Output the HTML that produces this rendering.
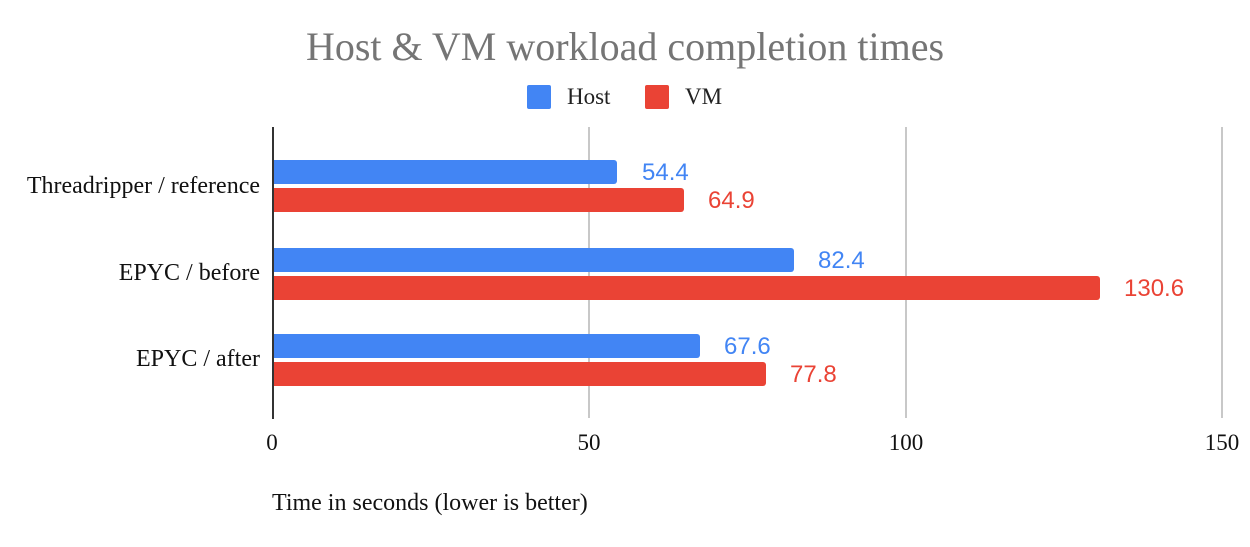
<!DOCTYPE html>
<html><head><style>body{margin:0;background:#fff}</style></head><body>
<svg width="1250" height="542" xmlns="http://www.w3.org/2000/svg">
<rect width="1250" height="542" fill="#fff"/>
<text x="625" y="60" text-anchor="middle" font-family="Liberation Serif, serif" font-size="40" fill="#757575">Host &amp; VM workload completion times</text>
<rect x="527" y="85" width="24" height="24" rx="2" fill="#4285f4"/>
<text x="567" y="104" font-family="Liberation Serif, serif" font-size="23" fill="#222">Host</text>
<rect x="645" y="85" width="24" height="24" rx="2" fill="#ea4335"/>
<text x="685" y="104" font-family="Liberation Serif, serif" font-size="23" fill="#222">VM</text>
<g stroke="#c8c8c8" stroke-width="2">
<line x1="589" y1="127" x2="589" y2="418"/>
<line x1="906" y1="127" x2="906" y2="418"/>
<line x1="1222" y1="127" x2="1222" y2="418"/>
</g>
<g font-family="Liberation Sans, sans-serif" font-size="24">
<path d="M272 160H614a3 3 0 0 1 3 3V181a3 3 0 0 1-3 3H272Z" fill="#4285f4"/>
<path d="M272 188H681a3 3 0 0 1 3 3V209a3 3 0 0 1-3 3H272Z" fill="#ea4335"/>
<path d="M272 248H791a3 3 0 0 1 3 3V269a3 3 0 0 1-3 3H272Z" fill="#4285f4"/>
<path d="M272 276H1097a3 3 0 0 1 3 3V297a3 3 0 0 1-3 3H272Z" fill="#ea4335"/>
<path d="M272 334H697a3 3 0 0 1 3 3V355a3 3 0 0 1-3 3H272Z" fill="#4285f4"/>
<path d="M272 362H763a3 3 0 0 1 3 3V383a3 3 0 0 1-3 3H272Z" fill="#ea4335"/>
<text x="642" y="180" fill="#4285f4">54.4</text>
<text x="708" y="208" fill="#ea4335">64.9</text>
<text x="818" y="268" fill="#4285f4">82.4</text>
<text x="1124" y="296" fill="#ea4335">130.6</text>
<text x="724" y="354" fill="#4285f4">67.6</text>
<text x="790" y="382" fill="#ea4335">77.8</text>
</g>
<line x1="273" y1="127" x2="273" y2="419" stroke="#333" stroke-width="2"/>
<g font-family="Liberation Serif, serif" font-size="24" fill="#111" text-anchor="end">
<text x="260" y="193">Threadripper / reference</text>
<text x="260" y="280">EPYC / before</text>
<text x="260" y="366">EPYC / after</text>
</g>
<g font-family="Liberation Serif, serif" font-size="23" fill="#111" text-anchor="middle">
<text x="272" y="450">0</text>
<text x="589" y="450">50</text>
<text x="906" y="450">100</text>
<text x="1222" y="450">150</text>
</g>
<text x="272" y="510" font-family="Liberation Serif, serif" font-size="24" fill="#111">Time in seconds (lower is better)</text>
</svg>
</body></html>
